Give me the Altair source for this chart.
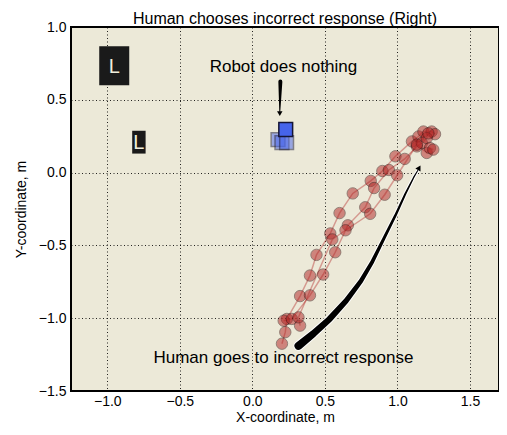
import altair as alt
import pandas as pd

# ---- data ----
# Human trajectories (three passes)
t1_x = [0.204, 0.227, 0.238, 0.329, 0.397, 0.442, 0.537, 0.601, 0.692, 0.816, 0.896, 0.986, 1.100, 1.145, 1.179, 1.236, 1.259]
t1_y = [-1.175, -1.096, -1.005, -0.848, -0.707, -0.565, -0.418, -0.278, -0.143, -0.057, 0.011, 0.112, 0.214, 0.248, 0.282, 0.282, 0.264]
t2_x = [0.216, 0.272, 0.397, 0.488, 0.571, 0.658, 0.778, 0.839, 0.941, 1.050, 1.134, 1.168, 1.202, 1.213]
t2_y = [-1.017, -1.005, -0.843, -0.700, -0.547, -0.362, -0.238, -0.106, 0.018, 0.094, 0.180, 0.203, 0.237, 0.270]
t3_x = [0.329, 0.318, 0.551, 0.642, 0.812, 0.912, 0.998, 1.134, 1.202, 1.224, 1.247]
t3_y = [-1.051, -0.994, -0.459, -0.396, -0.283, -0.152, -0.018, 0.192, 0.135, 0.169, 0.158]

# Robot positions
robot_x = [0.177, 0.204, 0.236, 0.230]
robot_y = [0.226, 0.206, 0.206, 0.296]
robot_alpha = [0.5, 0.5, 0.5, 1.0]

# "L" targets
big_L = (-0.952, 0.734)
small_L = (-0.782, 0.209)

# Annotation arrows (path points, with width in px)
big_arrow_x = [0.318, 0.420, 0.533, 0.646, 0.748, 0.828, 0.907, 0.986, 1.054, 1.111, 1.140]
big_arrow_y = [-1.190, -1.107, -1.005, -0.881, -0.746, -0.610, -0.452, -0.294, -0.147, -0.035, 0.015]
big_arrow_w = [8.0, 7.0, 6.2, 5.3, 4.5, 3.8, 3.1, 2.5, 1.9, 1.4, 1.0]
big_head = (1.150, 0.033, 30)
small_arrow_x = [0.193, 0.191, 0.189]
small_arrow_y = [0.625, 0.52, 0.42]
small_arrow_w = [4.0, 2.5, 1.0]
small_head = (0.189, 0.405)

title = "Human chooses incorrect response (Right)"
robot_note = "Robot does nothing"
robot_note_pos = (0.214, 0.722)
human_note = "Human goes to incorrect response"
human_note_pos = (0.214, -1.27)

x_ticks = [-1.0, -0.5, 0.0, 0.5, 1.0, 1.5]
y_ticks = [-1.5, -1.0, -0.5, 0.0, 0.5, 1.0]

FONT = "Liberation Sans"
RED = "#b22222"

# ---- build tables ----
rows = []
for k, (xs, ys) in enumerate([(t1_x, t1_y), (t2_x, t2_y), (t3_x, t3_y)]):
    for i, (a, b) in enumerate(zip(xs, ys)):
        rows.append({"track": k, "i": i, "x": a, "y": b})
traj = pd.DataFrame(rows)

robot = pd.DataFrame({"x": robot_x, "y": robot_y, "a": robot_alpha})
big_arrow = pd.DataFrame({"x": big_arrow_x, "y": big_arrow_y, "w": big_arrow_w,
                          "wo": [w + 2 for w in big_arrow_w], "i": range(len(big_arrow_x))})
small_arrow = pd.DataFrame({"x": small_arrow_x, "y": small_arrow_y, "w": small_arrow_w,
                            "i": range(len(small_arrow_x))})

xscale = alt.Scale(domain=[-1.25, 1.7], nice=False, zero=False)
yscale = alt.Scale(domain=[-1.5, 1.0], nice=False, zero=False)
lab = "replace(format(datum.value, '.1f'), '-', '\u2212')"

X = alt.X("x:Q", scale=xscale,
          axis=alt.Axis(values=x_ticks, labelExpr=lab, title="X-coordinate, m",
                        grid=True, ticks=False, domain=False, labelPadding=3, titlePadding=2))
Y = alt.Y("y:Q", scale=yscale,
          axis=alt.Axis(values=y_ticks, labelExpr=lab, title="Y-coordinate, m",
                        grid=True, ticks=False, domain=False, labelPadding=5, titlePadding=10))

lines = alt.Chart(traj).mark_line(color=RED, strokeWidth=1.5, opacity=0.4).encode(
    x=X, y=Y, detail="track:N", order="i:Q")
pts = alt.Chart(traj).mark_circle(size=130, color=RED, opacity=0.5, stroke="#2a0a0a",
                                  strokeWidth=1, strokeOpacity=0.9).encode(x="x:Q", y="y:Q")

robots = alt.Chart(robot).mark_square(size=190, color="#4664EB", stroke="#151535",
                                      strokeWidth=1.5).encode(
    x="x:Q", y="y:Q", opacity=alt.Opacity("a:Q", scale=None, legend=None))

Ldf = pd.DataFrame({"x": [big_L[0], small_L[0]], "y": [big_L[1], small_L[1]],
                    "kind": ["big", "small"]})
big_box = alt.Chart(Ldf[Ldf.kind == "big"]).mark_point(
    shape="M-1,-1.3L1,-1.3L1,1.3L-1,1.3Z", size=900, filled=True, color="#1a1a1a", opacity=1
).encode(x="x:Q", y="y:Q")
small_box = alt.Chart(Ldf[Ldf.kind == "small"]).mark_point(
    shape="M-1,-1.7L1,-1.7L1,1.7L-1,1.7Z", size=180, filled=True, color="#1a1a1a", opacity=1
).encode(x="x:Q", y="y:Q")
Ltext = alt.Chart(Ldf).mark_text(text="L", color="#f0eedc", font=FONT, fontSize=20,
                                 baseline="middle", align="center", dy=1).encode(x="x:Q", y="y:Q")

arrow_outline = alt.Chart(big_arrow).mark_trail(color="white").encode(
    x="x:Q", y="y:Q", order="i:Q", size=alt.Size("wo:Q", scale=None, legend=None))
arrow_body = alt.Chart(big_arrow).mark_trail(color="black").encode(
    x="x:Q", y="y:Q", order="i:Q", size=alt.Size("w:Q", scale=None, legend=None))
arrow_head = alt.Chart(pd.DataFrame({"x": [big_head[0]], "y": [big_head[1]]})).mark_point(
    shape="triangle-up", filled=True, color="black", size=35, angle=big_head[2], opacity=1
).encode(x="x:Q", y="y:Q")

sarrow_body = alt.Chart(small_arrow).mark_trail(color="black").encode(
    x="x:Q", y="y:Q", order="i:Q", size=alt.Size("w:Q", scale=None, legend=None))
sarrow_head = alt.Chart(pd.DataFrame({"x": [small_head[0]], "y": [small_head[1]]})).mark_point(
    shape="triangle-down", filled=True, color="black", size=30, opacity=1
).encode(x="x:Q", y="y:Q")

notes = pd.DataFrame({"x": [robot_note_pos[0], human_note_pos[0]],
                      "y": [robot_note_pos[1], human_note_pos[1]],
                      "t": [robot_note, human_note]})
note_text = alt.Chart(notes).mark_text(font=FONT, fontSize=17, color="black",
                                       baseline="middle", align="center").encode(
    x="x:Q", y="y:Q", text="t:N")

chart = alt.layer(
    lines, pts, arrow_outline, arrow_body, arrow_head, sarrow_body, sarrow_head,
    robots, big_box, small_box, Ltext, note_text
).properties(
    width=428, height=364,
    title=alt.TitleParams(title, font=FONT, fontSize=16, fontWeight="normal", offset=-7, color="black"),
    autosize=alt.AutoSizeParams(type="none"),
    padding={"left": 63, "top": 19, "right": 0, "bottom": 34},
    background="white",
).configure_view(
    fill="#ECE9D8", stroke="black", strokeWidth=2
).configure_axis(
    labelFont=FONT, titleFont=FONT, labelFontSize=14, titleFontSize=14,
    labelColor="black", titleColor="black", titleFontWeight="normal",
    gridColor="black", gridDash=[1, 2.5], gridWidth=1, gridOpacity=0.85,
)

chart.save("out.html", embed_options={"renderer": "svg", "actions": False})
